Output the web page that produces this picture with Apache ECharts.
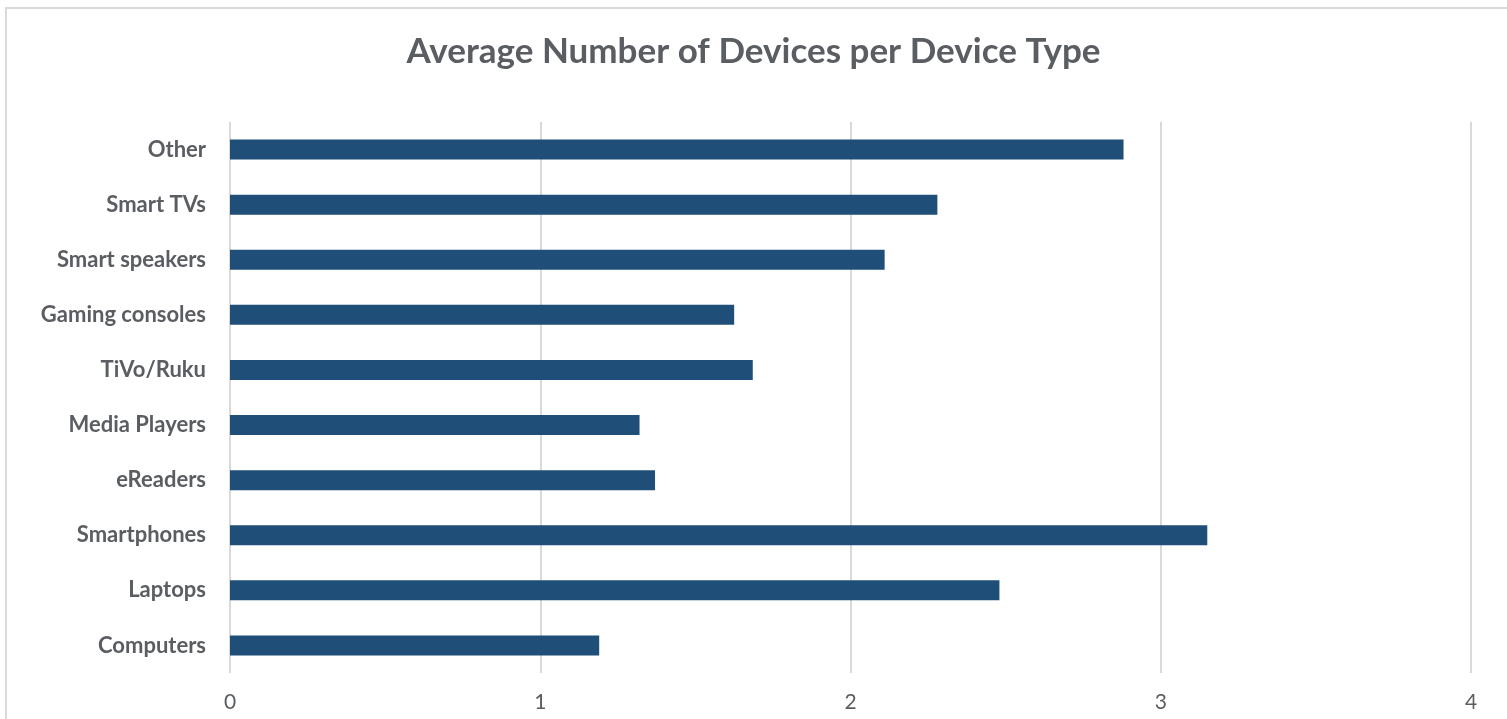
<!DOCTYPE html>
<html>
<head>
<meta charset="utf-8">
<style>
  html, body { margin: 0; padding: 0; background: #ffffff; }
  #chart { width: 1507px; height: 719px; }
</style>
<script src="https://cdn.jsdelivr.net/npm/echarts@6/dist/echarts.min.js"></script>
</head>
<body>
<div id="chart"></div>
<script>
// Device types, listed bottom to top
const deviceTypes = ['Computers', 'Laptops', 'Smartphones', 'eReaders', 'Media Players',
  'TiVo/Ruku', 'Gaming consoles', 'Smart speakers', 'Smart TVs', 'Other'];
// Average number of devices owned per type
const avgDevices = [1.19, 2.48, 3.15, 1.37, 1.32, 1.685, 1.625, 2.11, 2.28, 2.88];
const xTicks = { min: 0, max: 4, interval: 1 };

const chart = echarts.init(document.getElementById('chart'), null, { renderer: 'canvas' });
chart.setOption({
  backgroundColor: '#ffffff',
  animation: false,
  title: {
    text: 'Average Number of Devices per Device Type',
    left: 'center',
    top: 29,
    textStyle: { fontFamily: 'Lato', fontWeight: 'bold', fontSize: 35, color: '#5a5d61' }
  },
  graphic: [{
    type: 'rect',
    shape: { x: 6, y: 8, width: 1600, height: 800 },
    style: { fill: 'none', stroke: '#d9d9d9', lineWidth: 2 },
    silent: true
  }],
  grid: { left: 230, right: 36, top: 122, bottom: 46, containLabel: false },
  xAxis: {
    type: 'value',
    min: xTicks.min, max: xTicks.max, interval: xTicks.interval,
    axisLine: { show: false },
    axisTick: { show: false },
    axisLabel: { fontFamily: 'Lato', fontSize: 21, color: '#5a5d61', margin: 19 },
    splitLine: { show: true, lineStyle: { color: '#d9d9d9', width: 2 } }
  },
  yAxis: {
    type: 'category',
    data: deviceTypes,
    axisLine: { show: false },
    axisTick: { show: false },
    axisLabel: { fontFamily: 'Lato', fontWeight: 'bold', fontSize: 22, color: '#5a5d61', margin: 24 }
  },
  series: [{
    type: 'bar',
    data: avgDevices,
    barWidth: 20,
    itemStyle: { color: '#1f4e79' }
  }]
});
</script>
</body>
</html>
